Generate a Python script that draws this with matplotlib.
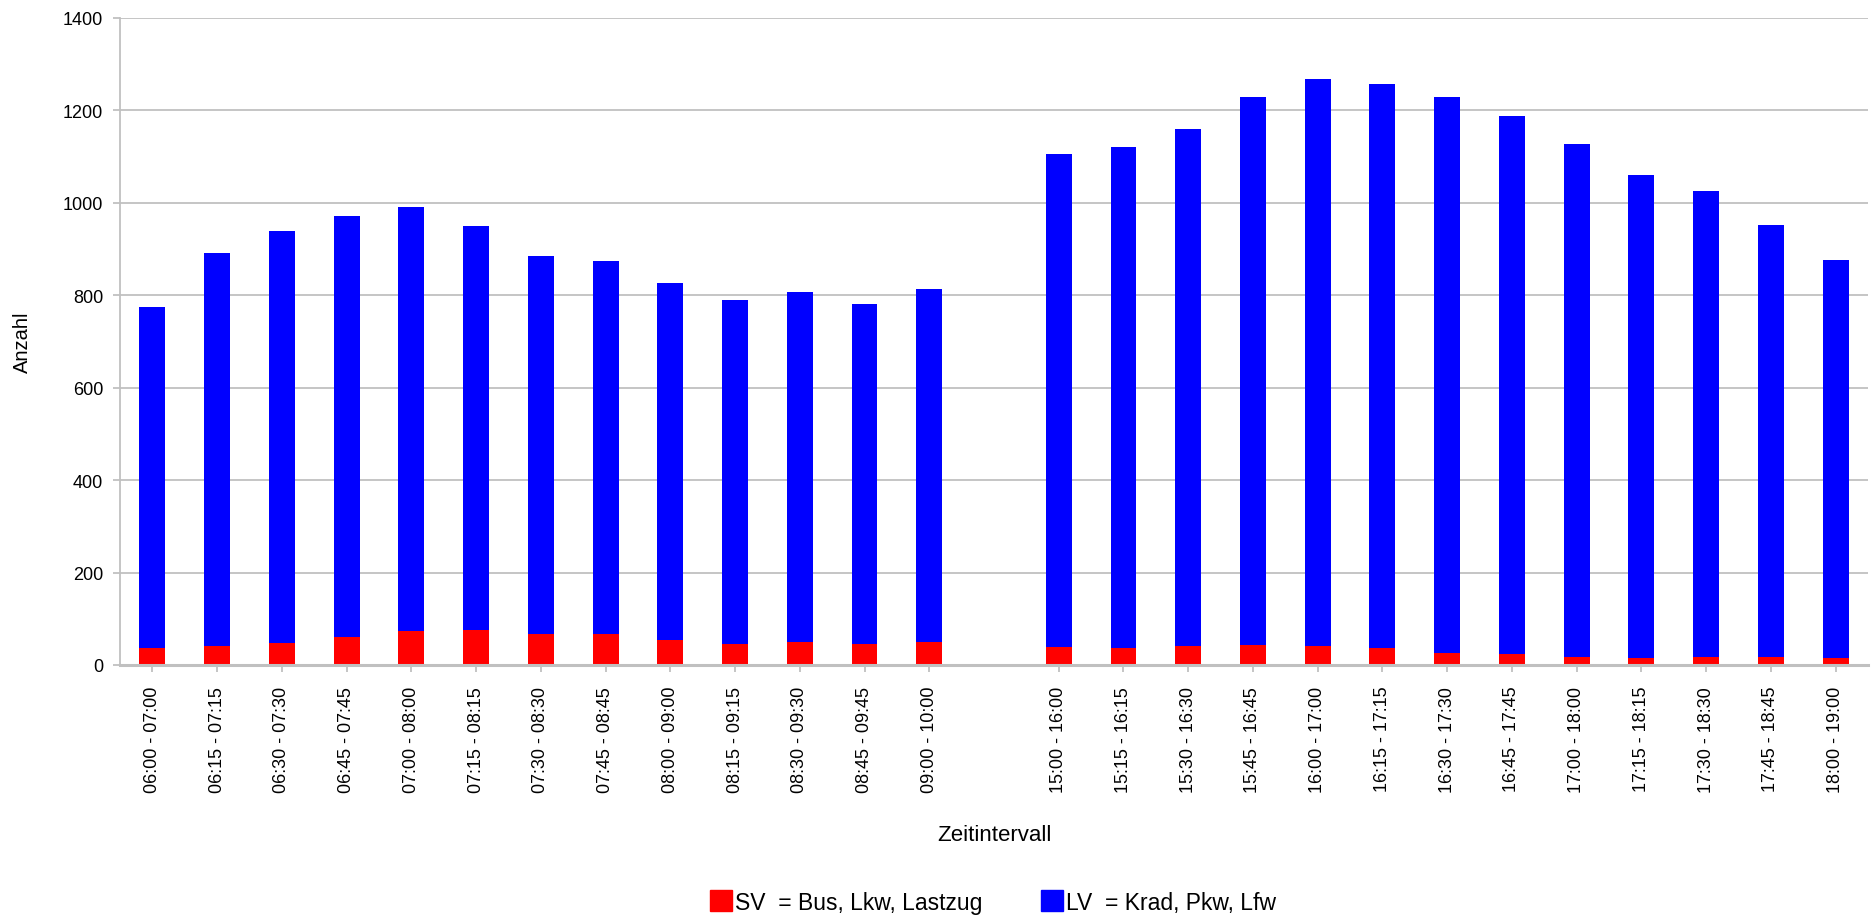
from __future__ import annotations

import matplotlib

matplotlib.use("Agg")
import matplotlib.pyplot as plt
import numpy as np
from matplotlib.patches import Patch

# Zählintervalle (Vormittag / Nachmittag), dazwischen eine leere Lücke
morning_labels = [
    "06:00 - 07:00", "06:15 - 07:15", "06:30 - 07:30", "06:45 - 07:45",
    "07:00 - 08:00", "07:15 - 08:15", "07:30 - 08:30", "07:45 - 08:45",
    "08:00 - 09:00", "08:15 - 09:15", "08:30 - 09:30", "08:45 - 09:45",
    "09:00 - 10:00",
]
afternoon_labels = [
    "15:00 - 16:00", "15:15 - 16:15", "15:30 - 16:30", "15:45 - 16:45",
    "16:00 - 17:00", "16:15 - 17:15", "16:30 - 17:30", "16:45 - 17:45",
    "17:00 - 18:00", "17:15 - 18:15", "17:30 - 18:30", "17:45 - 18:45",
    "18:00 - 19:00",
]

# Schwerverkehr je Intervall
sv_morning = [37, 42, 47, 61, 73, 76, 68, 67, 54, 45, 49, 45, 49]
sv_afternoon = [40, 37, 42, 43, 42, 37, 27, 24, 17, 15, 17, 17, 15]

# Gesamtverkehr je Intervall (SV + LV)
total_morning = [775, 892, 940, 972, 990, 950, 885, 874, 827, 790, 808, 781, 814]
total_afternoon = [1105, 1120, 1159, 1228, 1269, 1257, 1228, 1189, 1128, 1060, 1026, 952, 876]

SV_LABEL = "SV  = Bus, Lkw, Lastzug"
LV_LABEL = "LV  = Krad, Pkw, Lfw"
SV_COLOR = "#ff0000"
LV_COLOR = "#0000ff"
GRID_COLOR = "#c0c0c0"


def main() -> None:
    plt.rcParams["font.family"] = ["Liberation Sans", "DejaVu Sans"]
    plt.rcParams["axes.unicode_minus"] = False

    labels = morning_labels + afternoon_labels
    sv = np.array(sv_morning + sv_afternoon)
    lv = np.array(total_morning + total_afternoon) - sv

    n_m = len(morning_labels)
    x = np.concatenate([np.arange(n_m), np.arange(len(afternoon_labels)) + n_m + 1])

    fig = plt.figure(figsize=(18.72, 9.2), dpi=100)
    ax = fig.add_axes([120 / 1872, 1 - 666 / 920, 1748 / 1872, 647 / 920])

    width = 0.4
    ax.bar(x, sv, width, color=SV_COLOR, zorder=3)
    ax.bar(x, lv, width, bottom=sv, color=LV_COLOR, zorder=3)

    ax.set_xlim(-0.5, x[-1] + 0.5)
    ax.set_ylim(0, 1400)
    ax.set_yticks(np.arange(0, 1401, 200))
    ax.set_xticks(x)
    ax.set_xticklabels(labels, rotation=90, fontsize=13)
    ax.tick_params(axis="y", labelsize=13, length=5, pad=7, color=GRID_COLOR, width=1.3)
    ax.tick_params(axis="x", length=5, pad=10, color=GRID_COLOR, width=1.3)

    ax.yaxis.grid(True, color=GRID_COLOR, lw=1.3, zorder=0)
    ax.set_axisbelow(True)
    for side in ["top", "right"]:
        ax.spines[side].set_visible(False)
    ax.spines["left"].set_color(GRID_COLOR)
    ax.spines["left"].set_linewidth(1.3)
    ax.spines["bottom"].set_color(GRID_COLOR)
    ax.spines["bottom"].set_linewidth(2.2)
    ax.spines["bottom"].set_zorder(4)

    fig.text(22 / 1872, 1 - 342 / 920, "Anzahl", rotation=90, fontsize=14.5,
             ha="center", va="center")
    fig.text(994 / 1872, 1 - 836 / 920, "Zeitintervall", fontsize=16,
             ha="center", va="center")

    handles = [Patch(color=SV_COLOR), Patch(color=LV_COLOR)]
    fig.legend(
        handles, [SV_LABEL, LV_LABEL],
        loc="center", bbox_to_anchor=(993 / 1872, 1 - 903 / 920),
        ncol=2, frameon=False, fontsize=16.5, borderpad=0.0,
        handlelength=0.95, handleheight=1.0, handletextpad=0.1, columnspacing=2.6,
    )

    fig.savefig("out.png", dpi=100)
    plt.close(fig)


if __name__ == "__main__":
    main()
